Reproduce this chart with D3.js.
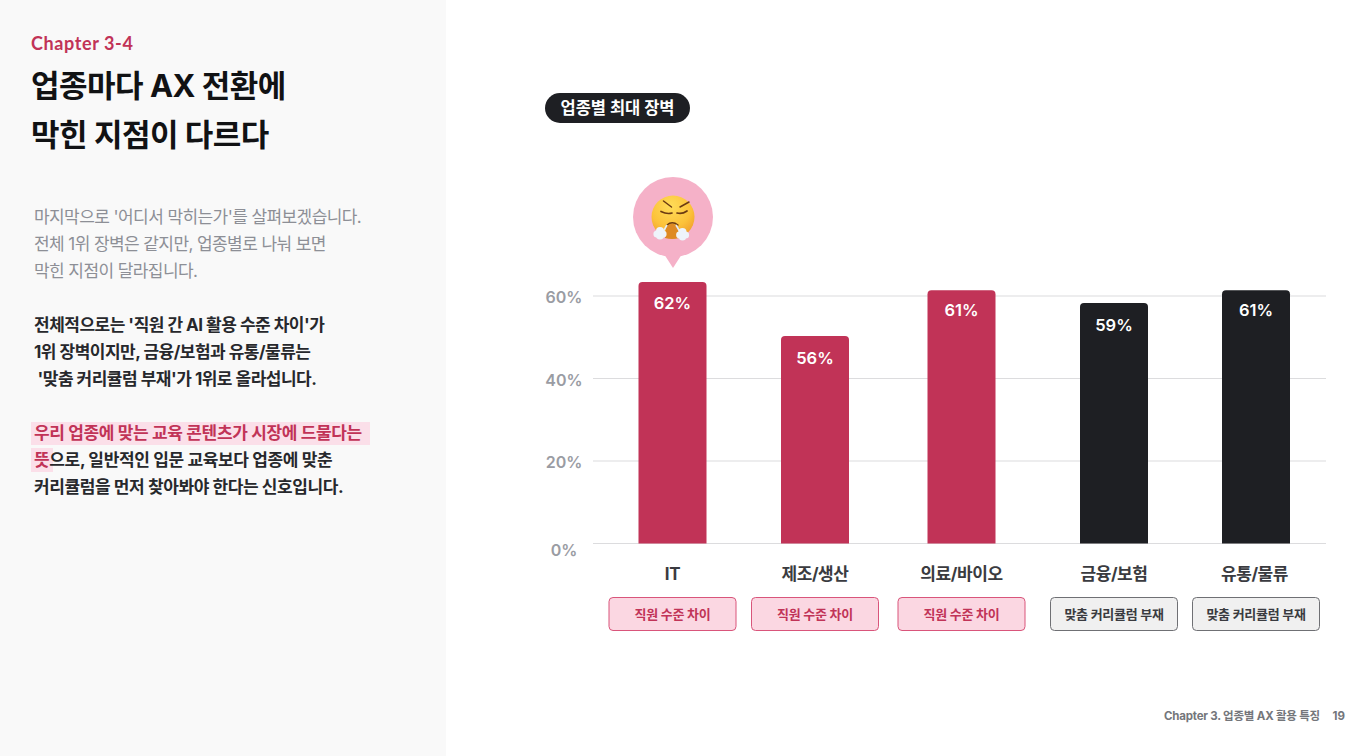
<!DOCTYPE html>
<html lang="ko">
<head>
<meta charset="utf-8">
<script src="https://cdn.jsdelivr.net/npm/d3@7"></script>
<style>
  html, body { margin: 0; padding: 0; background: #fff; }
  svg { display: block; }
  text { font-family: Inter, "Noto Sans CJK KR", sans-serif; }
</style>
</head>
<body>
<div id="chart"></div>
<script>
// chart data
var categories = ["IT", "제조/생산", "의료/바이오", "금융/보험", "유통/물류"];
var value_labels = ["62%", "56%", "61%", "59%", "61%"];
// bar heights read against the gridlines (the drawn bars do not sit exactly on their printed labels)
var bar_heights = [63.4, 50.3, 61.4, 58.3, 61.4];
var barriers = ["직원 수준 차이", "직원 수준 차이", "직원 수준 차이", "맞춤 커리큘럼 부재", "맞춤 커리큘럼 부재"];
var y_ticks = [0, 20, 40, 60];

var title_lines = ["업종마다 AX 전환에", "막힌 지점이 다르다"];
var intro_lines = ["마지막으로 '어디서 막히는가'를 살펴보겠습니다.", "전체 1위 장벽은 같지만, 업종별로 나눠 보면", "막힌 지점이 달라집니다."];
var bold_lines = ["전체적으로는 '직원 간 AI 활용 수준 차이'가", "1위 장벽이지만, 금융/보험과 유통/물류는", " '맞춤 커리큘럼 부재'가 1위로 올라섭니다."];

var RED = "#c13357", DARK = "#1e1f23";

var svg = d3.select("#chart").append("svg").attr("width", 1366).attr("height", 756);

// left panel
svg.append("rect").attr("width", 446).attr("height", 756).attr("fill", "#f9f9f9");

function add_text(x, y, str, size, weight, color, spacing) {
    return svg.append("text").attr("x", x).attr("y", y).text(str)
        .attr("font-size", size).attr("font-weight", weight).attr("fill", color)
        .attr("letter-spacing", spacing || 0).attr("xml:space", "preserve")
        .style("white-space", "pre");
}

add_text(31, 50, "Chapter 3-4", 18, 700, RED, 0.6).style("font-family", "Lato");
title_lines.forEach(function(t, i) {
    add_text(31, 97 + i * 49, t, 31, 700, "#111214", -0.5);
});
intro_lines.forEach(function(t, i) {
    add_text(34, 223 + i * 27, t, 17, 400, "#8d8f96", -0.58);
});
bold_lines.forEach(function(t, i) {
    add_text(34, 331 + i * 27, t, 17, 700, "#27282c", -0.5);
});

// highlighted sentence
svg.append("rect").attr("x", 31).attr("y", 422).attr("width", 339).attr("height", 23).attr("fill", "#fbdfe9");
svg.append("rect").attr("x", 31).attr("y", 448).attr("width", 22).attr("height", 24).attr("fill", "#fbdfe9");
add_text(34, 439, "우리 업종에 맞는 교육 콘텐츠가 시장에 드물다는", 17, 700, RED, -0.35);
var second = add_text(34, 466, "", 17, 700, "#27282c", -0.35);
second.append("tspan").attr("fill", RED).text("뜻");
second.append("tspan").text("으로, 일반적인 입문 교육보다 업종에 맞춘");
add_text(34, 493, "커리큘럼을 먼저 찾아봐야 한다는 신호입니다.", 17, 700, "#27282c", -0.4);

// chart title pill
svg.append("rect").attr("x", 545).attr("y", 93).attr("width", 145).attr("height", 30).attr("rx", 15).attr("fill", DARK);
add_text(617.5, 113.5, "업종별 최대 장벽", 16.5, 700, "#fff", 0).attr("text-anchor", "middle");

// scales
var y = d3.scaleLinear().domain([0, 60]).range([543.5, 296]);
var x = d3.scaleOrdinal().domain(categories).range([672.5, 815, 961.5, 1114, 1256]);
var BAR_W = 68;

// gridlines and y labels
var grid = svg.append("g").selectAll("g").data(y_ticks).enter().append("g");
grid.append("line")
    .attr("x1", 593).attr("x2", 1326)
    .attr("y1", function(d) { return y(d); }).attr("y2", function(d) { return y(d); })
    .attr("stroke", "#dcdcde").attr("stroke-width", 1.2);
grid.append("text")
    .attr("x", 564).attr("text-anchor", "middle")
    .attr("y", function(d) { return y(d) + (d === 0 ? 12.5 : 7); })
    .attr("font-size", 16).attr("font-weight", 600).attr("fill", "#9a9ca3")
    .text(function(d) { return d + "%"; });

// bars, rounded on top only
function bar_path(d, i) {
    var left = x(categories[i]) - BAR_W / 2, right = left + BAR_W;
    var top = y(d), bottom = y(0), r = 4;
    var p = d3.path();
    p.moveTo(left, bottom);
    p.lineTo(left, top + r);
    p.quadraticCurveTo(left, top, left + r, top);
    p.lineTo(right - r, top);
    p.quadraticCurveTo(right, top, right, top + r);
    p.lineTo(right, bottom);
    p.closePath();
    return p.toString();
}

svg.append("g").selectAll("path").data(bar_heights).enter().append("path")
    .attr("d", bar_path)
    .attr("fill", function(d, i) { return i < 3 ? RED : DARK; });

svg.append("g").selectAll("text").data(bar_heights).enter().append("text")
    .attr("x", function(d, i) { return x(categories[i]); })
    .attr("y", function(d, i) { return y(d) + (value_labels[i] === "61%" ? 25.5 : 27.5); })
    .attr("text-anchor", "middle")
    .attr("font-size", 16.5).attr("font-weight", 600).attr("fill", "#fff")
    .text(function(d, i) { return value_labels[i]; });

// category labels
svg.append("g").selectAll("text").data(categories).enter().append("text")
    .attr("x", function(d, i) { return x(d) - (i === 4 ? 1.5 : 0); })
    .attr("y", 580)
    .attr("text-anchor", "middle")
    .attr("font-size", 17).attr("font-weight", 700).attr("fill", "#3a3b40").attr("letter-spacing", -0.4)
    .text(function(d) { return d; });

// barrier tags
var tags = svg.append("g").selectAll("g").data(barriers).enter().append("g");
tags.append("rect")
    .attr("x", function(d, i) { return x(categories[i]) - 63.5; })
    .attr("y", 597.5).attr("width", 127).attr("height", 33).attr("rx", 4)
    .attr("fill", function(d, i) { return i < 3 ? "#fbd7e2" : "#f0f0f0"; })
    .attr("stroke", function(d, i) { return i < 3 ? "#d9557b" : "#6f7074"; });
tags.append("text")
    .attr("x", function(d, i) { return x(categories[i]); })
    .attr("y", 619)
    .attr("text-anchor", "middle")
    .attr("font-size", 13).attr("font-weight", 600).attr("letter-spacing", -0.3)
    .attr("fill", function(d, i) { return i < 3 ? RED : "#3a3b40"; })
    .text(function(d) { return d; });

// callout bubble over the first bar
var bubble = svg.append("g").attr("transform", "translate(673,217)");
bubble.append("path").attr("d", "M-9,37 L0,51 L9,37 Z").attr("fill", "#f5b1c8");
bubble.append("circle").attr("r", 40).attr("fill", "#f5b1c8");

// face with steam, drawn since no colour emoji font is available
var defs = svg.append("defs");
var grad = defs.append("radialGradient").attr("id", "face").attr("cx", "45%").attr("cy", "25%").attr("r", "80%");
grad.append("stop").attr("offset", "0%").attr("stop-color", "#ffdc58");
grad.append("stop").attr("offset", "60%").attr("stop-color", "#fcc23a");
grad.append("stop").attr("offset", "100%").attr("stop-color", "#ee982a");
var emoji = bubble.append("g");
emoji.append("circle").attr("r", 21.5).attr("fill", "url(#face)");
// open mouth between the two puffs
emoji.append("path").attr("d", "M-7,10 Q-1,3 5,10 L6,21 Q-1,23 -8,21 Z").attr("fill", "#de8a24");
[
    ["M-9.5,-16 L-1.5,-10", 1.5], ["M16,-15 L7,-10", 1.5],
    ["M-12,-5.5 Q-6,-2.5 -1,-4", 1.7], ["M14,-6 Q9,-2.5 4,-4", 1.7],
    ["M-6,8 Q-1,3.5 5,8", 1.4]
].forEach(function(s) {
    emoji.append("path").attr("d", s[0]).attr("stroke-width", s[1])
        .attr("fill", "none").attr("stroke", "#6b3a12").attr("stroke-linecap", "round");
});
// steam
emoji.append("path").attr("d", "M-6,8 L-10,15").attr("stroke", "#e6edf5").attr("stroke-width", 1.6).attr("fill", "none");
emoji.append("path").attr("d", "M3,8 L7,15").attr("stroke", "#e6edf5").attr("stroke-width", 1.6).attr("fill", "none");
[[-16, 17, 3.6], [-13, 14, 4], [-10, 17, 3.6], [-13, 18.5, 4], [6.5, 18, 3.4], [9.5, 15, 4], [12.5, 18, 3.6], [9.5, 20, 3.6]].forEach(function(c) {
    emoji.append("circle").attr("cx", c[0]).attr("cy", c[1]).attr("r", c[2]).attr("fill", "#eef4fb");
});

// footer
add_text(1320, 720, "Chapter 3. 업종별 AX 활용 특징", 11.5, 700, "#74767b", -0.2).attr("text-anchor", "end");
add_text(1345, 720, "19", 11.5, 700, "#74767b").attr("text-anchor", "end");
</script>
</body>
</html>
